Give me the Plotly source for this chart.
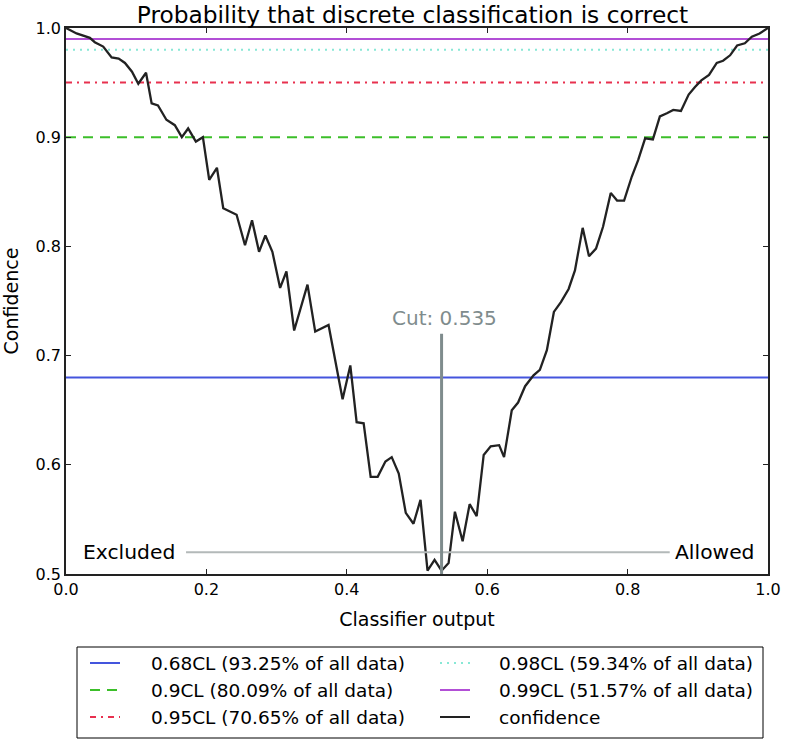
import plotly.graph_objects as go

# ---------------- data ----------------
classifier_x = [0.000, 0.015, 0.034, 0.041, 0.053, 0.065, 0.075, 0.084, 0.094, 0.103,
                0.114, 0.122, 0.131, 0.143, 0.155, 0.165, 0.174, 0.185, 0.195, 0.204,
                0.215, 0.224, 0.243, 0.255, 0.265, 0.275, 0.284, 0.294, 0.305, 0.314,
                0.325, 0.344, 0.355, 0.374, 0.394, 0.405, 0.414, 0.424, 0.434, 0.444,
                0.455, 0.464, 0.474, 0.484, 0.495, 0.505, 0.515, 0.525, 0.535, 0.545,
                0.554, 0.565, 0.575, 0.585, 0.595, 0.605, 0.617, 0.624, 0.635, 0.644,
                0.654, 0.666, 0.675, 0.685, 0.695, 0.705, 0.716, 0.725, 0.736, 0.745,
                0.755, 0.765, 0.776, 0.785, 0.795, 0.806, 0.815, 0.825, 0.836, 0.846,
                0.856, 0.865, 0.876, 0.887, 0.896, 0.905, 0.916, 0.927, 0.936, 0.946,
                0.956, 0.967, 0.977, 0.988, 1.000]
confidence = [1.000, 0.995, 0.991, 0.987, 0.983, 0.973, 0.972, 0.968, 0.960, 0.949,
              0.959, 0.931, 0.929, 0.916, 0.911, 0.900, 0.908, 0.896, 0.900, 0.861,
              0.872, 0.835, 0.829, 0.801, 0.824, 0.795, 0.810, 0.795, 0.762, 0.777,
              0.723, 0.765, 0.722, 0.728, 0.660, 0.691, 0.639, 0.638, 0.589, 0.589,
              0.603, 0.607, 0.592, 0.556, 0.546, 0.568, 0.503, 0.513, 0.503, 0.510,
              0.557, 0.530, 0.564, 0.553, 0.609, 0.617, 0.618, 0.607, 0.650, 0.657,
              0.672, 0.682, 0.687, 0.705, 0.740, 0.749, 0.761, 0.778, 0.817, 0.791,
              0.798, 0.818, 0.849, 0.842, 0.842, 0.864, 0.879, 0.899, 0.898, 0.919,
              0.922, 0.925, 0.924, 0.939, 0.946, 0.952, 0.957, 0.968, 0.970, 0.975,
              0.984, 0.986, 0.992, 0.995, 1.000]

cl_levels = [0.68, 0.9, 0.95, 0.98, 0.99]
cl_fractions = [93.25, 80.09, 70.65, 59.34, 51.57]

cut_value = 0.535
cut_top = 0.72
split_y = 0.52
split_x = [0.171, 0.86]

x_ticks = [0.0, 0.2, 0.4, 0.6, 0.8, 1.0]
y_ticks = [0.5, 0.6, 0.7, 0.8, 0.9, 1.0]

# ---------------- styles ----------------
FONT = "DejaVu Sans"
cl_colors = ["#4455dd", "#3cbf2a", "#e8304f", "#88e8d6", "#b24fd6"]
cl_dashes = ["solid", "10px,7px", "6px,5px,2px,5px", "2px,5px", "solid"]
curve_color = "#222222"
cut_color = "#7f8c8d"
split_color = "#b3b9b9"

W, H = 786, 739
PL, PR, PT, PB = 66, 768, 28, 574   # plot area in pixels


def pxx(p):
    return (p - PL) / (PR - PL)


def pxy(p):
    return (PB - p) / (PB - PT)


fig = go.Figure()

for lvl, col, dash in zip(cl_levels, cl_colors, cl_dashes):
    fig.add_trace(go.Scatter(x=[x_ticks[0], x_ticks[-1]], y=[lvl, lvl], mode="lines",
                             line=dict(color=col, width=2, dash=dash),
                             showlegend=False, hoverinfo="skip"))

fig.add_trace(go.Scatter(x=classifier_x, y=confidence, mode="lines",
                         line=dict(color=curve_color, width=2.3),
                         showlegend=False, name="confidence"))

fig.add_trace(go.Scatter(x=split_x, y=[split_y, split_y], mode="lines",
                         line=dict(color=split_color, width=2),
                         showlegend=False, hoverinfo="skip"))
fig.add_trace(go.Scatter(x=[cut_value, cut_value], y=[y_ticks[0], cut_top], mode="lines",
                         line=dict(color=cut_color, width=3),
                         showlegend=False, hoverinfo="skip"))

annotations = [
    dict(x=cut_value, y=cut_top, xref="x", yref="y", text=f"Cut: {cut_value}",
         showarrow=False, xanchor="center", yanchor="bottom", yshift=2, xshift=3,
         font=dict(family=FONT, size=20, color=cut_color)),
    dict(x=split_x[0] - 0.013, y=split_y, xref="x", yref="y", text="Excluded",
         showarrow=False, xanchor="right", yanchor="middle",
         font=dict(family=FONT, size=20.3, color="black")),
    dict(x=split_x[1] + 0.004, y=split_y, xref="x", yref="y", text="Allowed",
         showarrow=False, xanchor="left", yanchor="middle",
         font=dict(family=FONT, size=20.3, color="black")),
]

# ---------------- manual legend (two columns) ----------------
shapes = [dict(type="rect", xref="paper", yref="paper",
               x0=pxx(77), x1=pxx(763), y0=pxy(738), y1=pxy(647),
               line=dict(color="black", width=1), fillcolor="white", layer="below")]

labels = [f"{l}CL ({f:.2f}% of all data)" for l, f in zip(cl_levels, cl_fractions)] + ["confidence"]
colors = cl_colors + [curve_color]
dashes = cl_dashes + ["solid"]
row_y = [663, 690, 717]
col_line_x = [90, 440]
col_text_x = [149, 497]
for i, (lab, col, dash) in enumerate(zip(labels, colors, dashes)):
    c, r = divmod(i, 3)
    yy = pxy(row_y[r])
    shapes.append(dict(type="line", xref="paper", yref="paper",
                       x0=pxx(col_line_x[c]), x1=pxx(col_line_x[c] + 30), y0=yy, y1=yy,
                       line=dict(color=col, width=2, dash=dash)))
    annotations.append(dict(x=pxx(col_text_x[c]), y=yy, xref="paper", yref="paper",
                            text=lab, showarrow=False, xanchor="left", yanchor="middle",
                            font=dict(family=FONT, size=18.5, color="black")))

axis_common = dict(showline=True, linecolor="#222222", linewidth=1.5, mirror="ticks",
                   ticks="inside", ticklen=5, tickcolor="#222222", tickwidth=1,
                   showgrid=False, zeroline=False, tickformat=".1f", automargin=False,
                   tickfont=dict(family=FONT, size=16, color="black"))

fig.update_layout(
    width=W, height=H,
    margin=dict(l=PL, r=W - PR, t=PT, b=H - PB),
    paper_bgcolor="white", plot_bgcolor="white",
    font=dict(family=FONT, color="black"),
    title=dict(text="Probability that discrete classification is correct",
               x=pxx(412.5), xref="paper", xanchor="center",
               y=1 - 15 / H, yref="container", yanchor="middle",
               font=dict(family=FONT, size=23.3, color="black")),
    xaxis=dict(range=[x_ticks[0], x_ticks[-1]], tickvals=x_ticks,
               title=dict(text="Classifier output", standoff=15,
                          font=dict(family=FONT, size=19)),
               **axis_common),
    yaxis=dict(range=[y_ticks[0], y_ticks[-1]], tickvals=y_ticks,
               title=dict(text="Confidence", standoff=14,
                          font=dict(family=FONT, size=19)),
               **axis_common),
    shapes=shapes,
    annotations=annotations,
    showlegend=False,
)

# remove the browser's default 8px page margin so the figure fills the window
fig.write_html("out.html", config={"displayModeBar": False},
               post_script="document.body.style.margin='0px';")
